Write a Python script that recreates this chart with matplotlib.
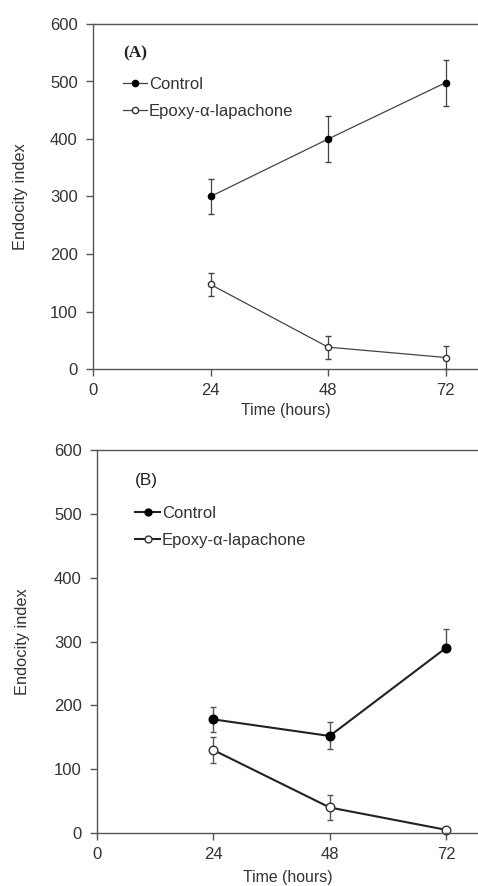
import matplotlib
matplotlib.use("Agg")
import matplotlib.pyplot as plt

plt.rcParams['font.family'] = ['Liberation Sans', 'DejaVu Sans']

## data
hours = [24, 48, 72]
labels = ['Control', 'Epoxy-α-lapachone']

a_control = [300, 400, 498]
a_control_err = [30, 40, 40]
a_epoxy = [147, 38, 20]
a_epoxy_err = [20, 20, 20]

b_control = [178, 152, 290]
b_control_err_lo = [20, 21, 0]
b_control_err_hi = [20, 22, 30]
b_epoxy = [130, 40, 5]
b_epoxy_err = [20, 20, 3]

xticks = [0, 24, 48, 72]
yticks = [0, 100, 200, 300, 400, 500, 600]

W, H = 478, 886
fig = plt.figure(figsize=(W / 100, H / 100), dpi=100)

AXC = '#555555'
TXT = '#333333'


def style(ax, ylab_x, xlabpad):
    ax.set_xlim(0, 78.6)
    ax.set_ylim(0, 600)
    ax.set_xticks(xticks)
    ax.set_yticks(yticks)
    ax.spines['right'].set_visible(False)
    for s in ['left', 'bottom', 'top']:
        ax.spines[s].set_color(AXC)
        ax.spines[s].set_linewidth(1.0)
    ax.tick_params(direction='out', length=5, width=1.0, colors=AXC,
                   labelcolor=TXT, labelsize=12)
    ax.tick_params(axis='x', pad=5)
    ax.tick_params(axis='y', pad=6)
    ax.set_xlabel("Time (hours)", fontsize=11.4, color=TXT, labelpad=xlabpad)
    ax.set_ylabel("Endocity index", fontsize=11.8, color=TXT)
    ax.yaxis.set_label_coords(ylab_x, 0.5)


## panel A
ax1 = fig.add_axes([93 / W, 1 - 369 / H, 1 - 93 / W, (369 - 24) / H])
style(ax1, (28 - 93) / (W - 93), 4)
l1 = ax1.errorbar(hours, a_control, yerr=a_control_err, color='#444444', lw=0.9,
                  marker='o', ms=4.5, mfc='black', mec='black', ecolor='#444444',
                  elinewidth=0.9, capsize=2.5, clip_on=False)
l2 = ax1.errorbar(hours, a_epoxy, yerr=a_epoxy_err, color='#444444', lw=0.9,
                  marker='o', ms=4.5, mfc='white', mec='#333333', ecolor='#444444',
                  elinewidth=0.9, capsize=2.5, clip_on=False)
ax1.annotate("(A)", xy=((123 - 93) / (W - 93), (369 - 53) / 345), xycoords='axes fraction',
             ha='left', va='center', fontsize=12.5, fontweight='bold',
             family='Liberation Serif', color='#222222')
ax1.legend([l1[0], l2[0]], labels, loc='center left',
           bbox_to_anchor=((123 - 93) / (W - 93), (369 - 98) / 345),
           frameon=False, handlelength=1.45, handletextpad=0.1,
           labelspacing=0.7, borderpad=0, borderaxespad=0,
           fontsize=12, labelcolor=TXT)

## panel B
ax2 = fig.add_axes([97 / W, 1 - 833 / H, 1 - 97 / W, (833 - 450) / H])
style(ax2, (30 - 97) / (W - 97), 5.5)
m1 = ax2.errorbar(hours, b_control, yerr=[b_control_err_lo, b_control_err_hi],
                  color='#222222', lw=1.5, marker='o', ms=6.2, mfc='black', mec='black',
                  ecolor='#555555', elinewidth=1.0, capsize=2.5, clip_on=False)
m2 = ax2.errorbar(hours, b_epoxy, yerr=b_epoxy_err, color='#222222', lw=1.5,
                  marker='o', ms=6.2, mfc='white', mec='#333333', ecolor='#555555',
                  elinewidth=1.0, capsize=2.5, clip_on=False)
ax2.annotate("(B)", xy=((135 - 97) / (W - 97), (833 - 480) / 383), xycoords='axes fraction',
             ha='left', va='center', fontsize=12.4, color='#222222')
ax2.legend([m1[0], m2[0]], labels, loc='center left',
           bbox_to_anchor=((135 - 97) / (W - 97), (833 - 527) / 383),
           frameon=False, handlelength=1.5, handletextpad=0.1,
           labelspacing=0.75, borderpad=0, borderaxespad=0,
           fontsize=12, labelcolor=TXT, markerscale=0.8)

plt.savefig("out.png", dpi=100)
